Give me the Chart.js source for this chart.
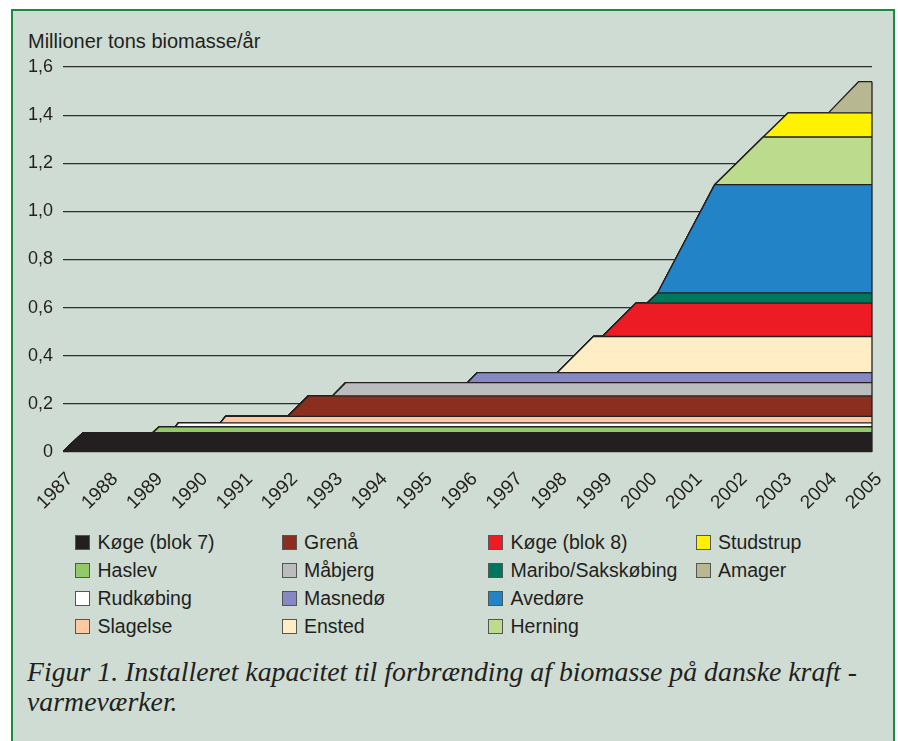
<!DOCTYPE html>
<html>
<head>
<meta charset="utf-8">
<script src="https://cdn.jsdelivr.net/npm/chart.js@4.4.1/dist/chart.umd.min.js"></script>
<style>
  body { margin: 0; width: 898px; height: 741px; overflow: hidden; position: relative; background: #fff;
         font-family: "Liberation Sans", Arial, sans-serif; color: #231f20; }
  #frame { position: absolute; left: 11px; top: 9px; width: 880px; height: 760px;
           border: 2px solid #1a8c40; background: #cfdcd3; }
  #unit { position: absolute; left: 28px; top: 31px; font-size: 20px; line-height: 20px; white-space: nowrap; }
  #wrap { position: absolute; left: 0; top: 0; width: 898px; height: 525px; }
  #legend { position: absolute; left: 75px; top: 528px; display: grid;
            grid-template-columns: 206.5px 206.5px 207.5px 180px; grid-template-rows: repeat(4, 28.2px);
            grid-auto-flow: column; font-size: 19.5px; }
  #legend div { display: flex; align-items: center; white-space: nowrap; }
  #legend span.box { width: 13px; height: 13px; border: 1px solid #555; margin-right: 7.5px; flex: none; }
  #caption { position: absolute; left: 27px; top: 657px; font-family: "Liberation Serif", "Times New Roman", serif;
             font-style: italic; font-size: 28px; line-height: 29.5px; white-space: nowrap; transform-origin: 0 0; }
</style>
</head>
<body>
<div id="frame"></div>
<div id="unit">Millioner tons biomasse/år</div>
<div id="wrap"><canvas id="chart"></canvas></div>
<div id="legend"></div>
<div id="caption">Figur 1. Installeret kapacitet til forbrænding af biomasse på danske kraft -<br>varmeværker.</div>
<script>
// plants, bottom of the stack first
const plants = ['Køge (blok 7)', 'Haslev', 'Rudkøbing', 'Slagelse', 'Grenå', 'Måbjerg', 'Masnedø',
                'Ensted', 'Køge (blok 8)', 'Maribo/Sakskøbing', 'Avedøre', 'Herning', 'Studstrup', 'Amager'];
// installed capacity, million tons biomass per year
const capacity = [0.08, 0.025, 0.016, 0.027, 0.085, 0.055, 0.042, 0.15, 0.139, 0.042, 0.45, 0.198, 0.10, 0.13];
// year the capacity starts coming in and year it is fully in
const rampStart = [1987, 1989.0, 1989.5, 1990.5, 1992.0, 1993.0, 1996.0, 1998.0, 1999.0, 2000.0, 2000.23, 2001.5, 2002.58, 2004.03];
const rampEnd   = [1987.45, 1989.14, 1989.57, 1990.62, 1992.46, 1993.29, 1996.22, 1998.8, 1999.75, 2000.23, 2001.5, 2002.58, 2003.13, 2004.7];
const colors = ['#231f20', '#92c96a', '#ffffff', '#fdc9a1', '#8b2e1f', '#bbbcbe', '#8688c3',
                '#ffedc6', '#ed1c24', '#00775a', '#2283c6', '#bcdb8c', '#fff200', '#b7b891'];
const yearTicks = ['1987','1988','1989','1990','1991','1992','1993','1994','1995','1996',
                   '1997','1998','1999','2000','2001','2002','2003','2004','2005'];
const yTickLabels = ['0', '0,2', '0,4', '0,6', '0,8', '1,0', '1,2', '1,4', '1,6'];

const xMin = +yearTicks[0], xMax = +yearTicks[yearTicks.length - 1];
const xs = [...new Set([xMin, ...rampStart, ...rampEnd, xMax])].sort((a, b) => a - b);
const level = (i, x) => capacity[i] * Math.min(1, Math.max(0, (x - rampStart[i]) / (rampEnd[i] - rampStart[i])));

const datasets = plants.map((p, i) => ({
  label: p,
  data: xs.map(x => ({ x: x, y: level(i, x) })),
  backgroundColor: colors[i],
  borderColor: '#231f20',
  borderWidth: 1.3,
  pointRadius: 0,
  tension: 0,
  fill: i === 0 ? 'origin' : '-1'
}));

const rightEdge = {
  id: 'rightEdge',
  afterDatasetsDraw(chart) {
    const { ctx, scales: { x, y } } = chart;
    const total = capacity.reduce((a, b) => a + b, 0);
    const px = x.getPixelForValue(xMax);
    ctx.save();
    ctx.strokeStyle = '#231f20';
    ctx.lineWidth = 1.3;
    ctx.beginPath();
    ctx.moveTo(px, y.getPixelForValue(0));
    ctx.lineTo(px, y.getPixelForValue(total));
    ctx.stroke();
    ctx.restore();
  }
};

new Chart(document.getElementById('chart'), {
  type: 'line',
  data: { datasets: datasets },
  options: {
    responsive: true,
    maintainAspectRatio: false,
    animation: false,
    layout: { padding: { top: 67, right: 26, left: 0, bottom: 0 } },
    plugins: { legend: { display: false }, tooltip: { enabled: false } },
    scales: {
      x: {
        type: 'linear', min: xMin, max: xMax,
        grid: { display: false },
        border: { display: false },
        afterFit: s => { s.height = 73; s.paddingLeft = 0; s.paddingRight = 0; },
        ticks: {
          stepSize: 1, autoSkip: false, minRotation: 45, maxRotation: 45, padding: 8, labelOffset: 7,
          color: '#231f20', font: { family: 'Liberation Sans', size: 19 },
          callback: (v, i) => yearTicks[i]
        }
      },
      y: {
        stacked: true, min: 0, max: 1.6,
        grid: { color: '#2e2e2e', lineWidth: 1.2, drawTicks: false },
        border: { display: false },
        afterFit: s => { s.width = 63; },
        ticks: {
          stepSize: 0.2, padding: 10,
          color: '#231f20', font: { family: 'Liberation Sans', size: 18 },
          callback: (v, i) => yTickLabels[i]
        }
      }
    }
  },
  plugins: [rightEdge]
});

// legend, column by column
const legend = document.getElementById('legend');
plants.forEach((p, i) => {
  const d = document.createElement('div');
  d.innerHTML = '<span class="box" style="background:' + colors[i] + '"></span>' + p;
  legend.appendChild(d);
});

// caption width
const cap = document.getElementById('caption');
const w = cap.getBoundingClientRect().width;
cap.style.transform = 'scaleX(' + (830 / w) + ')';
</script>
</body>
</html>
